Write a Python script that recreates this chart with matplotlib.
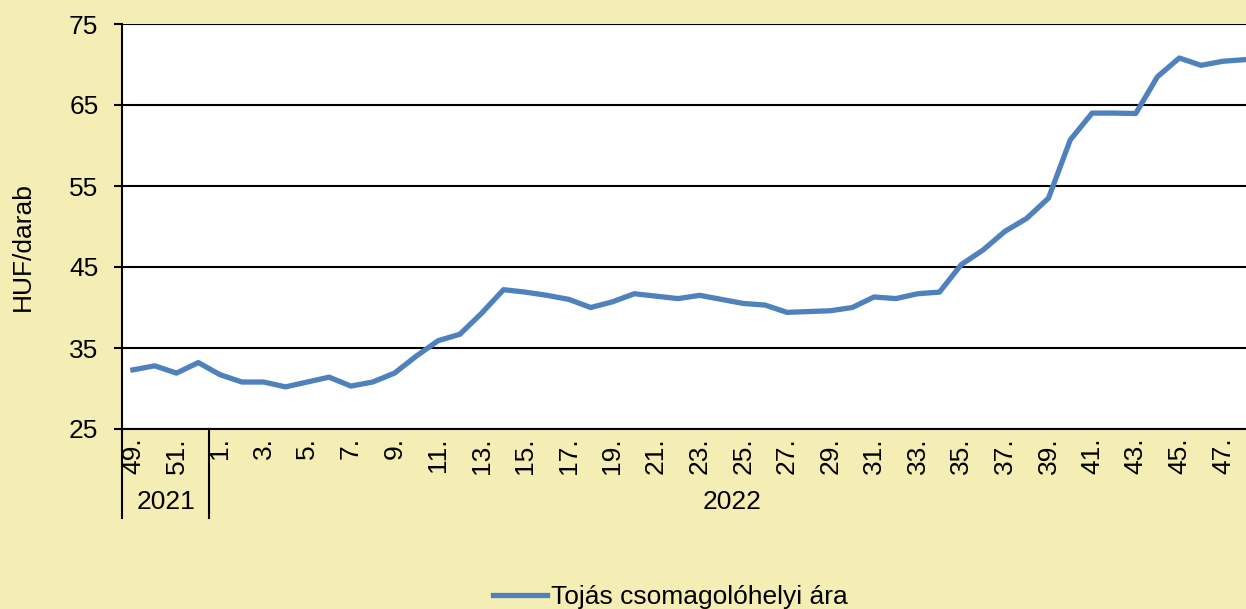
import numpy as np
from matplotlib import pyplot as plt
from matplotlib import transforms

plt.rcParams['font.family'] = ['Liberation Sans', 'DejaVu Sans']

# Hetek (2021: 49-52, 2022: 1-48)
hetek_2021 = [49, 50, 51, 52]
hetek_2022 = list(range(1, 49))
ar = [32.3, 32.8, 31.9, 33.2,
      31.7, 30.8, 30.8, 30.2, 30.8, 31.4, 30.3, 30.8, 31.9, 34.0,
      35.9, 36.7, 39.3, 42.2, 41.9, 41.5, 41.0, 40.0, 40.7, 41.7,
      41.4, 41.1, 41.5, 41.0, 40.5, 40.3, 39.4, 39.5, 39.6, 40.0,
      41.3, 41.1, 41.7, 41.9, 45.3, 47.1, 49.4, 51.0, 53.5, 60.7,
      64.0, 64.0, 63.95, 68.5, 70.8, 69.9, 70.4, 70.6]
evek = ["2021", "2022"]

cimkek = [f"{h}." for h in hetek_2021 + hetek_2022]
x = np.arange(len(cimkek))

betu = 19
hatter = "#F5EEB4"
fig = plt.figure(figsize=(12.46, 6.09), dpi=100, facecolor=hatter)
ax = fig.add_axes([122 / 1246, 1 - 429 / 609, 1 - 122 / 1246, 405 / 609])
ax.set_facecolor("white")

ax.plot(x, ar, color="#4F81BD", lw=3.8, solid_joinstyle="round",
        label="Tojás csomagolóhelyi ára", clip_on=False)

ax.set_ylim(25, 75)
ax.set_yticks(np.arange(25, 76, 10))
ax.set_xlim(-0.5, 51.06)
ax.set_xticks(x[::2])
ax.set_xticklabels(cimkek[::2], rotation=90, va="top", ha="center")
ax.tick_params(axis="x", length=0, pad=6, labelsize=betu)
ax.tick_params(axis="y", length=6, width=1.5, pad=11, labelsize=betu)
ax.grid(axis="y", color="black", lw=1.5)
ax.set_axisbelow(True)
for s in ["top", "right"]:
    ax.spines[s].set_visible(False)
for s in ["left", "bottom"]:
    ax.spines[s].set_linewidth(1.5)

ax.set_ylabel("HUF/darab", fontsize=betu)
ax.yaxis.set_label_coords(-87 / 1124, 0.45)

# Év elválasztók és évcímkék
tr = transforms.blended_transform_factory(ax.transData, ax.transAxes)
n21 = len(hetek_2021)
for xv in [-0.5, n21 - 0.5]:
    ax.plot([xv, xv], [0, -0.22], color="black", lw=1.5, transform=tr, clip_on=False)
ax.text((n21 - 1) / 2, -0.18, evek[0], transform=tr, ha="center", va="center", fontsize=betu)
ax.text(n21 + (len(hetek_2022) - 1) / 2, -0.18, evek[1], transform=tr,
        ha="center", va="center", fontsize=betu)

fig.legend(loc="center", bbox_to_anchor=(670 / 1246, 1 - 597 / 609), frameon=False,
           fontsize=betu, handlelength=2.05, handletextpad=0.15)

fig.savefig("out.png", dpi=100, facecolor=hatter)
